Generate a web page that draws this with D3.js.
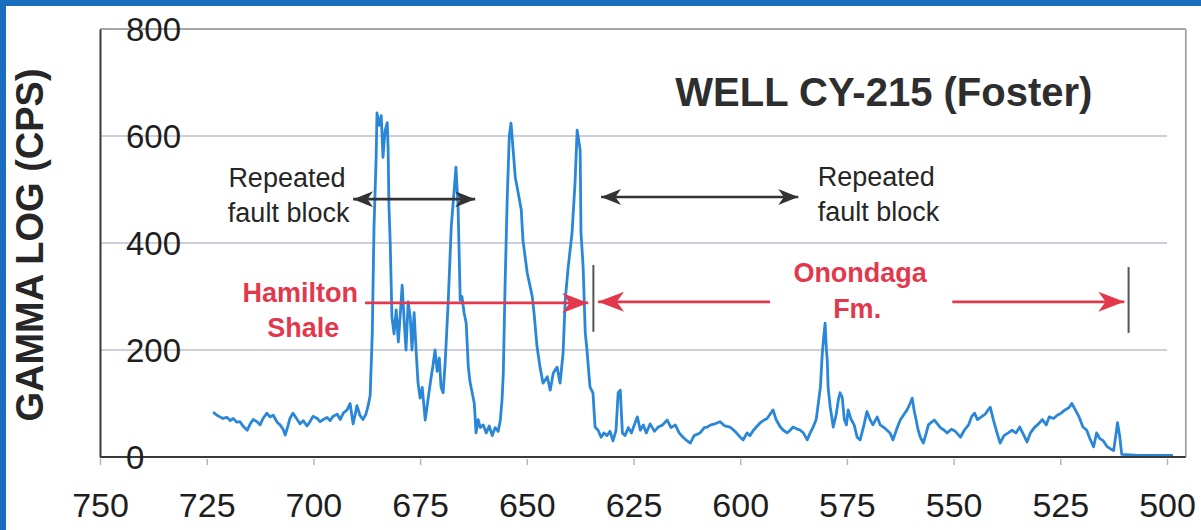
<!DOCTYPE html>
<html>
<head>
<meta charset="utf-8">
<script src="https://cdn.jsdelivr.net/npm/d3@7"></script>
<style>
  body { margin: 0; background: #fff; }
  svg { display: block; }
  text { font-family: "Liberation Sans", Arial, Helvetica, sans-serif; }
</style>
</head>
<body>
<svg id="chart" width="1201" height="530"></svg>
<script>
// Gamma-ray log of well CY-215 (Foster): depth (ft) and counts per second
const depthFt = [
  723.5,722.6,721.9,721.2,720.2,719.5,718.8,717.9,717.2,716.5,715.5,714.8,714.1,713.2,712.5,711.8,710.9,710.2,709.4,708.5,
  707.8,707.1,706.6,705.9,705.5,704.8,703.8,703.1,702.4,701.5,700.8,700.1,699.1,698.4,697.7,696.8,696.1,695.4,694.4,693.7,
  693.0,692.1,691.4,690.7,690.2,689.8,689.1,688.4,687.7,687.2,686.7,
  686.2,685.8,685.3,685.1,684.6,684.1,683.7,683.2,682.7,682.5,682.3,682.0,681.6,681.1,680.6,680.1,679.7,679.2,678.7,678.3,
  677.8,677.3,676.9,676.4,675.9,675.5,675.0,674.5,673.8,673.1,672.4,672.0,671.5,671.0,670.5,670.1,669.6,669.1,
  668.4,667.7,667.0,666.6,666.1,665.6,665.2,664.7,664.2,663.7,663.3,662.8,662.3,661.9,661.4,660.9,660.2,659.5,658.8,658.1,
  657.4,656.7,656.2,
  655.8,655.5,655.1,654.6,654.1,653.7,653.2,652.7,652.0,651.3,650.9,649.9,649.2,648.7,648.3,647.6,646.9,646.2,645.2,644.5,
  643.8,642.9,642.2,641.5,641.0,640.3,639.4,638.7,638.2,637.5,637.3,636.8,636.3,635.9,635.2,634.5,634.0,633.3,632.6,631.9,
  631.2,630.5,629.8,629.1,628.6,628.1,627.6,627.0,626.2,625.5,624.8,624.1,623.4,622.7,622.0,621.1,620.1,619.2,618.2,617.1,
  616.2,615.2,614.3,613.4,612.4,611.7,610.8,609.4,608.4,607.7,606.9,605.9,604.7,603.6,602.4,601.2,600.0,599.3,598.4,597.7,
  596.9,596.0,595.3,594.4,593.7,593.0,592.3,591.6,590.6,589.9,589.0,588.3,587.6,586.6,585.9,585.2,584.3,583.6,582.9,582.2,
  581.7,581.2,580.8,580.5,580.1,579.8,579.6,579.4,578.9,578.2,577.5,577.0,576.6,576.1,575.6,575.1,574.7,574.0,573.3,572.6,
  571.9,571.0,570.3,569.6,568.9,567.9,567.2,566.3,565.6,564.9,564.2,563.2,562.5,561.6,560.9,560.2,559.7,559.2,558.8,558.3,
  557.8,557.1,556.4,555.9,555.2,554.5,553.8,553.1,552.2,551.5,550.5,549.6,548.4,547.5,546.5,545.8,545.1,544.4,543.5,542.6,
  541.9,541.4,540.7,540.0,539.1,538.2,537.2,536.3,535.4,534.5,533.5,532.8,532.0,531.1,530.1,529.2,528.3,527.6,526.6,525.7,
  524.8,523.9,523.0,522.3,521.6,520.6,519.7,518.8,518.1,517.2,516.5,515.8,514.9,514.1,513.2,512.5,512.0,511.6,511.1,510.6,
  506.6,498.6
];
const gammaCps = [
  84,78,75,72,74,68,72,65,66,58,50,62,70,66,60,72,82,75,78,65,
  60,52,41,60,72,82,70,62,68,58,66,76,72,66,70,74,68,76,80,70,
  82,88,100,62,80,96,78,70,80,95,115,
  232,430,560,643,620,638,560,610,625,580,470,400,262,230,275,215,260,321,250,200,
  290,260,200,270,194,140,110,130,69,110,150,170,200,160,185,131,120,180,
  293,430,500,542,467,293,300,270,250,168,140,120,100,45,70,55,60,45,58,40,
  55,48,69,
  107,157,318,480,600,624,574,523,493,462,405,344,318,299,269,206,168,138,150,125,
  157,168,138,194,293,355,419,512,611,574,419,355,232,200,131,120,56,50,37,45,
  40,48,30,50,120,125,45,40,55,45,60,75,50,60,45,62,48,56,60,69,
  55,60,45,37,30,26,40,45,55,56,60,62,66,58,56,48,37,32,45,40,
  50,58,64,69,72,80,88,70,56,50,45,50,56,52,50,45,32,45,56,70,
  100,131,190,219,250,200,181,130,93,56,80,107,120,112,70,60,88,70,60,37,
  32,60,85,70,60,75,60,55,50,45,32,55,69,80,88,100,110,85,70,50,
  37,26,45,60,65,69,62,55,50,45,52,48,37,50,60,75,82,70,75,80,
  88,93,70,50,26,40,45,50,45,56,40,28,45,55,62,70,60,75,72,78,
  82,88,92,100,90,75,56,50,35,19,45,35,30,20,15,12,40,64,40,5,
  3,3
];

const xTickValues = [750, 725, 700, 675, 650, 625, 600, 575, 550, 525, 500];
const yTickValues = [0, 200, 400, 600, 800];
const gridValues = [200, 400, 600];

const chartTitle = "WELL CY-215 (Foster)";
const yAxisTitle = "GAMMA LOG (CPS)";

const svg = d3.select("#chart");

// scales: depth increases to the left
const x = d3.scaleLinear().domain([750, 500]).range([100, 1167]);
const y = d3.scaleLinear().domain([0, 800]).range([457, 29]);
const xFrameEnd = x(495.6);

// blue frame around the figure
svg.append("rect").attr("x", 0).attr("y", 0).attr("width", 1201).attr("height", 6).attr("fill", "#1b6dbf");
svg.append("rect").attr("x", 0).attr("y", 0).attr("width", 6).attr("height", 530).attr("fill", "#1b6dbf");

// horizontal gridlines
svg.append("g").selectAll("line").data(gridValues).join("line")
  .attr("x1", x(750)).attr("x2", x(500))
  .attr("y1", d => y(d)).attr("y2", d => y(d))
  .attr("stroke", "#bfbfcf").attr("stroke-width", 1.4);

// plot frame: top and right edges
svg.append("line").attr("x1", x(750)).attr("x2", xFrameEnd).attr("y1", y(800)).attr("y2", y(800))
  .attr("stroke", "#8a8a8a").attr("stroke-width", 1.6);
svg.append("line").attr("x1", xFrameEnd).attr("x2", xFrameEnd).attr("y1", y(800)).attr("y2", y(0))
  .attr("stroke", "#9a9a9a").attr("stroke-width", 1.6);

// the gamma curve
const line = d3.line().x((d, i) => x(depthFt[i])).y(d => y(d));
svg.append("path")
  .attr("d", line(gammaCps))
  .attr("fill", "none")
  .attr("stroke", "#2a87d8")
  .attr("stroke-width", 2.8)
  .attr("stroke-linejoin", "round");

// axes
const xAxis = d3.axisBottom(x).tickValues(xTickValues).tickSize(8).tickPadding(28).tickFormat(d3.format("d"));
const gx = svg.append("g").attr("transform", `translate(0,${y(0)})`).call(xAxis);
gx.select(".domain").attr("d", `M${x(750)},0H${xFrameEnd}`).attr("stroke", "#3a3a3a").attr("stroke-width", 2);
gx.selectAll(".tick line").attr("stroke", "#b5b5b5").attr("stroke-width", 1.5).attr("y1", 2);
gx.selectAll(".tick text").attr("font-size", 34).attr("fill", "#1e1e1e")
  .attr("font-family", "'Liberation Sans', Arial, sans-serif");

const yAxis = d3.axisLeft(y).tickValues(yTickValues).tickSize(0).tickFormat(d3.format("d"));
const gy = svg.append("g").attr("transform", `translate(${x(750)},0)`).call(yAxis);
gy.select(".domain").attr("stroke", "#3a3a3a").attr("stroke-width", 2);
gy.selectAll(".tick text")
  .attr("x", 26).attr("dy", "0.36em").attr("text-anchor", "start")
  .attr("font-size", 33).attr("fill", "#1e1e1e")
  .attr("font-family", "'Liberation Sans', Arial, sans-serif");

// axis title
svg.append("text")
  .attr("transform", `translate(43,${245}) rotate(-90)`)
  .attr("text-anchor", "middle")
  .attr("font-size", 38).attr("font-weight", "bold").attr("fill", "#262626")
  .text(yAxisTitle);

// chart title
svg.append("text")
  .attr("x", x(615.2)).attr("y", y(656))
  .attr("font-size", 40).attr("font-weight", "bold").attr("fill", "#2e2e2e")
  .text(chartTitle);

// arrow helper: shaft plus filled stealth heads
function arrow(x1, x2, yv, color, width, heads, headLen, headHalf) {
  const py = y(yv), px1 = x(x1), px2 = x(x2);
  const g = svg.append("g");
  g.append("line").attr("x1", px1).attr("x2", px2).attr("y1", py).attr("y2", py)
    .attr("stroke", color).attr("stroke-width", width);
  heads.forEach(end => {
    const tip = end === "start" ? px1 : px2;
    const dir = (end === "start" ? (px1 < px2 ? 1 : -1) : (px2 > px1 ? -1 : 1));
    const back = tip + dir * headLen;
    const notch = tip + dir * headLen * 0.72;
    g.append("path")
      .attr("d", `M${tip},${py}L${back},${py - headHalf}L${notch},${py}L${back},${py + headHalf}Z`)
      .attr("fill", color);
  });
}

// fault-block arrows
arrow(690.7, 662.1, 482, "#333333", 2.6, ["start", "end"], 20, 8);
arrow(632.6, 586.4, 486, "#333333", 2.6, ["start", "end"], 20, 8);

// formation arrows
const red = "#e3384c";
arrow(687.9, 635.6, 288, red, 2.8, ["end"], 26, 10);
arrow(593.0, 633.3, 290, red, 2.8, ["end"], 26, 10);
arrow(550.3, 510.0, 290, red, 2.8, ["end"], 26, 10);

// formation boundaries
[[634.4, 359, 234], [509.0, 355, 232]].forEach(([d, top, bot]) => {
  svg.append("line").attr("x1", x(d)).attr("x2", x(d)).attr("y1", y(top)).attr("y2", y(bot))
    .attr("stroke", "#555").attr("stroke-width", 2);
});

// labels
function label(lines, cx, vals, size, color, bold) {
  lines.forEach((t, i) => {
    svg.append("text")
      .attr("x", x(cx[i])).attr("y", y(vals[i]))
      .attr("text-anchor", "middle")
      .attr("font-size", size)
      .attr("font-weight", bold ? "bold" : "normal")
      .attr("fill", color)
      .text(t);
  });
}
label(["Repeated", "fault block"], [706.2, 705.8], [505, 440], 27, "#262626", false);
label(["Repeated", "fault block"], [568.1, 567.6], [507, 441], 27, "#262626", false);
label(["Hamilton", "Shale"], [703.1, 702.4], [289, 225], 27, red, true);
label(["Onondaga", "Fm."], [571.9, 572.6], [328, 260], 27, red, true);
</script>
</body>
</html>
